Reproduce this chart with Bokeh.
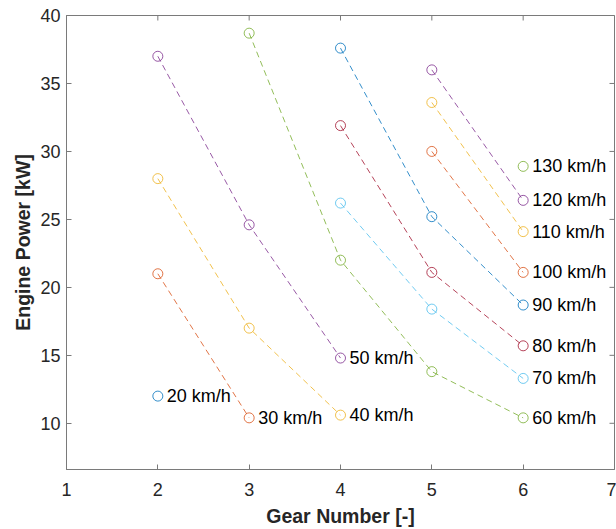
import math
from bokeh.plotting import figure
from bokeh.models import Range1d, FixedTicker, ColumnDataSource
from bokeh.core.properties import value
from bokeh.embed import file_html
from bokeh.resources import INLINE

# Data: engine power [kW] per gear for each vehicle speed
speed_labels = ["20 km/h", "30 km/h", "40 km/h", "50 km/h", "60 km/h", "70 km/h",
                "80 km/h", "90 km/h", "100 km/h", "110 km/h", "120 km/h", "130 km/h"]

gear_20 = [2];             power_20 = [12.0]
gear_30 = [2, 3];          power_30 = [21.0, 10.4]
gear_40 = [2, 3, 4];       power_40 = [28.0, 17.0, 10.6]
gear_50 = [2, 3, 4];       power_50 = [37.0, 24.6, 14.8]
gear_60 = [3, 4, 5, 6];    power_60 = [38.7, 22.0, 13.8, 10.4]
gear_70 = [4, 5, 6];       power_70 = [26.2, 18.4, 13.3]
gear_80 = [4, 5, 6];       power_80 = [31.9, 21.1, 15.7]
gear_90 = [4, 5, 6];       power_90 = [37.6, 25.2, 18.7]
gear_100 = [5, 6];         power_100 = [30.0, 21.1]
gear_110 = [5, 6];         power_110 = [33.6, 24.1]
gear_120 = [5, 6];         power_120 = [36.0, 26.4]
gear_130 = [6];            power_130 = [28.9]

x_ticks = [1, 2, 3, 4, 5, 6, 7]
y_ticks = [10, 15, 20, 25, 30, 35, 40]
x_min, x_max = 1, 7
y_min, y_max = 6.6, 40

gears = [gear_20, gear_30, gear_40, gear_50, gear_60, gear_70,
         gear_80, gear_90, gear_100, gear_110, gear_120, gear_130]
powers = [power_20, power_30, power_40, power_50, power_60, power_70,
          power_80, power_90, power_100, power_110, power_120, power_130]

matlab_colors = ["#0072BD", "#D95319", "#EDB120", "#7E2F8E", "#77AC30", "#4DBEEE", "#A2142F"]

FONT = "Liberation Sans"
AX = "#262626"
FRAME = "#7a7a7a"

p = figure(width=616, height=529, output_backend="svg", toolbar_location=None,
           x_range=Range1d(x_min, x_max), y_range=Range1d(y_min, y_max),
           x_axis_label="Gear Number [-]", y_axis_label="Engine Power [kW]",
           min_border_left=66, min_border_right=2, min_border_top=15, min_border_bottom=60)
p.grid.visible = False
p.outline_line_color = FRAME
p.background_fill_color = "white"
p.border_fill_color = "white"

for ax, ticks in ((p.xaxis[0], x_ticks), (p.yaxis[0], y_ticks)):
    ax.ticker = FixedTicker(ticks=ticks)
    ax.major_tick_in = 5
    ax.major_tick_out = 0
    ax.minor_tick_line_color = None
    ax.axis_line_color = FRAME
    ax.major_tick_line_color = FRAME
    ax.major_label_text_font = FONT
    ax.major_label_text_font_size = "18px"
    ax.major_label_text_color = AX
    ax.axis_label_text_font = FONT
    ax.axis_label_text_font_size = "19.5px"
    ax.axis_label_text_font_style = "bold"
    ax.axis_label_text_color = AX

p.xaxis[0].major_label_standoff = 13
p.xaxis[0].axis_label_standoff = 6
p.yaxis[0].major_label_standoff = 6
p.yaxis[0].axis_label_standoff = 3

# inward tick marks on the right and top edges of the box (clipped to the frame)
p.scatter([x_max] * len(y_ticks), y_ticks, marker="dash", size=10, line_color=FRAME, line_width=1)
p.scatter(x_ticks, [y_max] * len(x_ticks), marker="dash", angle=math.pi / 2, size=10,
          line_color=FRAME, line_width=1)

for i, (g, pw, lab) in enumerate(zip(gears, powers, speed_labels)):
    col = matlab_colors[i % len(matlab_colors)]
    src = ColumnDataSource(dict(x=g, y=pw))
    if len(g) > 1:
        p.line("x", "y", source=src, line_color=col, line_width=1, line_dash="6 4", line_alpha=0.8)
    p.scatter("x", "y", source=src, marker="circle", size=10, fill_color=None,
              line_color=col, line_width=1, line_alpha=0.8)
    lsrc = ColumnDataSource(dict(x=[g[-1]], y=[pw[-1]], t=[lab]))
    p.text("x", "y", text="t", source=lsrc, x_offset=9, text_baseline="middle",
           text_align="left", text_font=value(FONT), text_font_size="18px", text_color="#000000")

open("out.html", "w").write(file_html(p, INLINE))
